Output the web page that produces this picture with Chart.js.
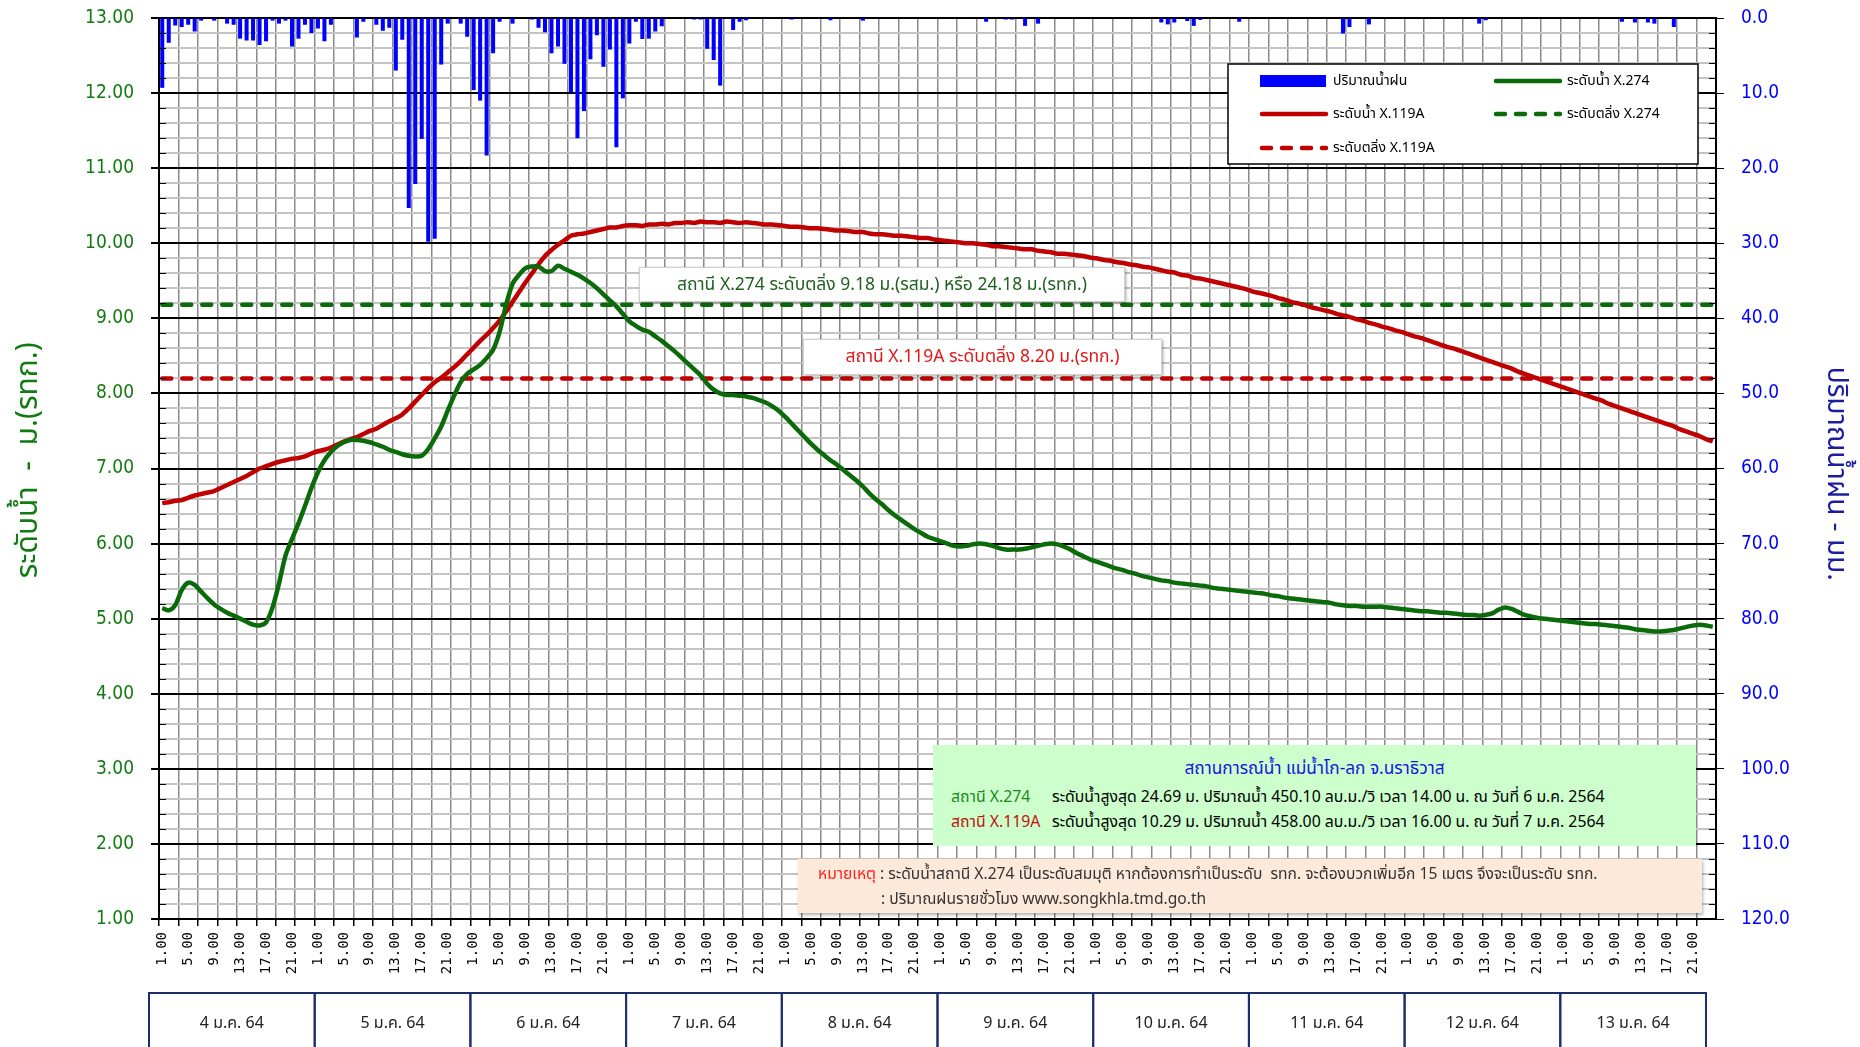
<!DOCTYPE html>
<html>
<head>
<meta charset="utf-8">
<script src="https://cdn.jsdelivr.net/npm/chart.js@4.4.1/dist/chart.umd.min.js"></script>
<style>
  html, body { margin: 0; padding: 0; background: #fff; }
  #wrap { position: relative; width: 1860px; height: 1047px; overflow: hidden; }
  #levelChart { position: absolute; left: 0; top: 0; }
  .box { position: absolute; box-sizing: border-box; font-family: "Noto Sans Thai", "Leelawadee UI", Tahoma, "Noto Sans", "DejaVu Sans", sans-serif; white-space: nowrap; }
  .bank { background: #fff; border: 1px solid #d0d0d0; box-shadow: 1px 1px 3px rgba(0,0,0,0.35); font-size: 17.5px; text-align: center; line-height: 34px; }
  #bank274 { left: 639px; top: 267px; width: 486px; height: 35px; color: #1f5f1f; }
  #bank119 { left: 803px; top: 339px; width: 359px; height: 36px; color: #e01818; }
  #summary { left: 933px; top: 745px; width: 763px; height: 101px; background: #ccffcc; font-size: 15.8px; }
  #summary .head { position: absolute; left: 0; right: 0; top: 11px; text-align: center; color: #1515e0; font-size: 17.3px; }
  #summary .row { position: absolute; left: 18px; }
  #summary .stn { display: inline-block; width: 101px; }
  #note { left: 798px; top: 859px; width: 904px; height: 54px; background: #fde9d9; box-shadow: 1px 2px 3px rgba(0,0,0,0.3); font-size: 15.6px; color: #333; }
  #note .row { position: absolute; }
</style>
</head>
<body>
<div id="wrap">
  <canvas id="levelChart" width="1860" height="1047"></canvas>
  <div class="box bank" id="bank274">สถานี X.274 ระดับตลิ่ง 9.18 ม.(รสม.) หรือ 24.18 ม.(รทก.)</div>
  <div class="box bank" id="bank119">สถานี X.119A ระดับตลิ่ง 8.20 ม.(รทก.)</div>
  <div class="box" id="summary">
    <div class="head">สถานการณ์น้ำ แม่น้ำโก-ลก จ.นราธิวาส</div>
    <div class="row" style="top:40px"><span class="stn" style="color:#1a8a1a">สถานี X.274</span>ระดับน้ำสูงสุด 24.69 ม. ปริมาณน้ำ 450.10 ลบ.ม./วิ เวลา 14.00 น. ณ วันที่ 6 ม.ค. 2564</div>
    <div class="row" style="top:65px"><span class="stn" style="color:#c01010">สถานี X.119A</span>ระดับน้ำสูงสุด 10.29 ม. ปริมาณน้ำ 458.00 ลบ.ม./วิ เวลา 16.00 น. ณ วันที่ 7 ม.ค. 2564</div>
  </div>
  <div class="box" id="note">
    <div class="row" style="left:20px; top:3px"><span style="color:#ff2020">หมายเหตุ</span> : ระดับน้ำสถานี X.274 เป็นระดับสมมุติ หากต้องการทำเป็นระดับ&nbsp; รทก. จะต้องบวกเพิ่มอีก 15 เมตร จึงจะเป็นระดับ รทก.</div>
    <div class="row" style="left:83px; top:28px">: ปริมาณฝนรายชั่วโมง www.songkhla.tmd.go.th</div>
  </div>
</div>
<script>
// hourly readings 4-13 Jan 2564 (one row per day, 1.00 .. 24.00)
const hourTicks = ["1.00","2.00","3.00","4.00","5.00","6.00","7.00","8.00","9.00","10.00","11.00","12.00",
  "13.00","14.00","15.00","16.00","17.00","18.00","19.00","20.00","21.00","22.00","23.00","24.00"];
const dayLabels = ["4 ม.ค. 64","5 ม.ค. 64","6 ม.ค. 64","7 ม.ค. 64","8 ม.ค. 64",
  "9 ม.ค. 64","10 ม.ค. 64","11 ม.ค. 64","12 ม.ค. 64","13 ม.ค. 64"];

const levelX274 = [
  5.14,5.11,5.18,5.38,5.48,5.45,5.36,5.27,5.19,5.13,5.08,5.04,5.00,4.96,4.92,4.91,4.95,5.15,5.47,5.84,6.06,6.27,6.50,6.74,
  6.95,7.11,7.22,7.30,7.35,7.38,7.38,7.37,7.35,7.32,7.29,7.25,7.22,7.19,7.17,7.16,7.17,7.26,7.40,7.56,7.77,7.97,8.15,8.26,
  8.32,8.38,8.47,8.58,8.82,9.18,9.46,9.58,9.67,9.69,9.69,9.63,9.63,9.70,9.66,9.62,9.58,9.53,9.47,9.40,9.32,9.24,9.16,9.06,
  8.96,8.90,8.85,8.82,8.76,8.70,8.63,8.56,8.48,8.40,8.32,8.24,8.13,8.05,8.00,7.98,7.98,7.97,7.96,7.94,7.91,7.88,7.83,7.77,
  7.69,7.60,7.51,7.42,7.33,7.25,7.18,7.11,7.05,6.98,6.91,6.84,6.76,6.67,6.59,6.52,6.44,6.37,6.31,6.25,6.19,6.14,6.09,6.06,
  6.03,6.00,5.97,5.96,5.97,5.99,6.00,5.99,5.97,5.94,5.92,5.92,5.92,5.93,5.95,5.97,5.99,6.00,5.99,5.96,5.92,5.87,5.83,5.79,
  5.76,5.73,5.70,5.67,5.65,5.62,5.60,5.57,5.55,5.53,5.51,5.50,5.48,5.47,5.46,5.45,5.44,5.43,5.41,5.40,5.39,5.38,5.37,5.36,
  5.35,5.34,5.33,5.31,5.30,5.28,5.27,5.26,5.25,5.24,5.23,5.22,5.21,5.19,5.18,5.17,5.17,5.16,5.16,5.16,5.16,5.15,5.14,5.13,
  5.12,5.11,5.10,5.10,5.09,5.08,5.08,5.07,5.06,5.05,5.05,5.04,5.05,5.07,5.12,5.15,5.13,5.09,5.05,5.03,5.01,5.00,4.99,4.98,
  4.97,4.96,4.95,4.94,4.93,4.93,4.92,4.91,4.90,4.89,4.88,4.86,4.85,4.84,4.83,4.83,4.84,4.85,4.87,4.89,4.91,4.92,4.91,4.89
];

const levelX119A = [
  6.54,6.55,6.57,6.58,6.61,6.64,6.66,6.68,6.70,6.74,6.78,6.82,6.86,6.90,6.95,7.00,7.03,7.06,7.09,7.11,7.13,7.14,7.16,7.20,
  7.23,7.25,7.28,7.32,7.36,7.39,7.42,7.46,7.50,7.53,7.58,7.63,7.67,7.72,7.80,7.89,7.98,8.07,8.15,8.21,8.28,8.35,8.43,8.52,
  8.61,8.70,8.78,8.87,8.97,9.09,9.22,9.35,9.48,9.60,9.72,9.83,9.91,9.98,10.04,10.10,10.12,10.13,10.15,10.17,10.19,10.21,10.21,10.23,
  10.24,10.24,10.23,10.25,10.25,10.26,10.25,10.27,10.27,10.28,10.27,10.29,10.28,10.28,10.27,10.29,10.28,10.27,10.28,10.27,10.26,10.25,10.25,10.24,
  10.23,10.22,10.22,10.21,10.20,10.20,10.19,10.18,10.17,10.17,10.16,10.15,10.15,10.13,10.12,10.12,10.11,10.10,10.10,10.09,10.08,10.07,10.07,10.05,
  10.04,10.03,10.02,10.01,10.00,10.00,9.99,9.98,9.96,9.96,9.95,9.94,9.93,9.92,9.92,9.90,9.89,9.88,9.86,9.86,9.85,9.84,9.83,9.81,
  9.80,9.78,9.77,9.75,9.74,9.72,9.71,9.69,9.68,9.66,9.64,9.62,9.61,9.58,9.57,9.54,9.53,9.51,9.49,9.47,9.45,9.43,9.41,9.39,
  9.36,9.34,9.32,9.30,9.27,9.25,9.22,9.20,9.18,9.15,9.13,9.11,9.09,9.06,9.04,9.02,8.99,8.97,8.94,8.92,8.89,8.87,8.84,8.82,
  8.79,8.76,8.74,8.71,8.68,8.65,8.62,8.60,8.57,8.54,8.51,8.48,8.45,8.42,8.39,8.36,8.33,8.29,8.26,8.23,8.20,8.17,8.14,8.11,
  8.08,8.05,8.02,7.99,7.96,7.93,7.90,7.86,7.83,7.80,7.77,7.74,7.71,7.68,7.65,7.62,7.59,7.56,7.52,7.49,7.46,7.43,7.39,7.36
];

const rainfall = [
  9.3,3.3,1.0,1.2,0.9,1.8,0.35,0,0.35,0,0.75,0.9,2.75,3.0,3.0,3.6,3.1,0.35,0.75,0.35,3.8,2.75,0.9,2.0,
  1.4,3.1,0.9,0,0,0,2.6,0.5,0,0.9,1.7,1.3,7.0,2.9,25.3,22.1,16.1,29.8,29.4,6.2,0.75,0,0.75,2.5,
  9.6,11.0,18.3,4.7,0.5,0,0.75,0,0,0.2,1.3,1.9,4.7,3.8,6.1,9.9,16.0,12.4,5.5,2.3,6.5,4.2,17.2,10.7,
  3.4,0.5,2.8,2.75,1.8,1.1,0,0,0,0.1,0.2,0.2,4.1,5.6,9.0,0.1,1.6,0.5,0.3,0,0,0.1,0.1,0,
  0,0.2,0.1,0,0,0,0,0.3,0,0,0.1,0,0.35,0,0,0,0,0,0,0,0,0,0,0,
  0,0,0,0,0.1,0,0,0.5,0,0,0.2,0.2,0,1.05,0,0.75,0,0,0,0,0,0,0,0,
  0,0,0,0,0,0,0,0.1,0.1,0,0.6,0.85,0.6,0,0.4,1.05,0.25,0,0,0,0,0,0.5,0,
  0,0,0,0,0,0,0,0,0,0,0,0,0,0,2.07,1.2,0,0,0.85,0,0,0,0,0,
  0,0,0,0.1,0,0,0,0,0,0,0,0.75,0.3,0,0,0,0,0,0,0,0,0,0,0,
  0.1,0,0,0,0,0,0,0,0,0.5,0,0.6,0,0.6,0.75,0,0,1.2,0,0,0,0,0,0
];

const bankX274 = 9.18;
const bankX119A = 8.20;

const categories = [];
dayLabels.forEach(function () { hourTicks.forEach(function (h) { categories.push(h); }); });

const thaiFont = '"Noto Sans Thai", "Leelawadee UI", Tahoma, "Noto Sans", "DejaVu Sans", sans-serif';
const numFont = '"DejaVu Sans Condensed", "DejaVu Sans", sans-serif';
const green = "#0b6b0b";
const red = "#c00000";

function isMajor(v) { return Math.abs(v - Math.round(v)) < 1e-6; }

// value axes: fixed width and no extra label padding so the plot keeps its place
function fixWidth(w) {
  return function (s) { s.width = w; s.paddingTop = 0; s.paddingBottom = 0; };
}

// legend box drawn inside the plot, two columns like the original
const legendBox = {
  id: "legendBox",
  afterDraw(chart) {
    const ctx = chart.ctx;
    const ds = chart.data.datasets;
    ctx.save();
    ctx.fillStyle = "#fff";
    ctx.fillRect(1228, 64, 470, 100);
    ctx.strokeStyle = "#000";
    ctx.lineWidth = 1.5;
    ctx.strokeRect(1228, 64, 470, 100);
    const items = [
      [0, 1260, 81], [1, 1260, 114], [3, 1260, 148],
      [2, 1494, 81], [4, 1494, 114]
    ];
    ctx.font = "14px " + thaiFont;
    ctx.textBaseline = "middle";
    items.forEach(function (it) {
      const d = ds[it[0]];
      const x = it[1], y = it[2];
      if (d.type === "bar") {
        ctx.fillStyle = d.backgroundColor;
        ctx.fillRect(x, y - 6, 66, 12);
      } else {
        ctx.strokeStyle = d.borderColor;
        ctx.lineWidth = 4.5;
        ctx.lineCap = "round";
        ctx.setLineDash(d.borderDash || []);
        ctx.beginPath();
        ctx.moveTo(x + 2, y);
        ctx.lineTo(x + 66, y);
        ctx.stroke();
        ctx.setLineDash([]);
      }
      ctx.fillStyle = "#000";
      ctx.fillText(d.label, x + 73, y + 1);
    });
    ctx.restore();
  }
};

// day boxes under the hour labels, axis titles, small inner ticks on both value axes
const axisExtras = {
  id: "axisExtras",
  afterDraw(chart) {
    const ctx = chart.ctx;
    const xs = chart.scales.x, ys = chart.scales.y, rs = chart.scales.yRain;
    const area = chart.chartArea;
    ctx.save();
    ctx.strokeStyle = "#000";
    ctx.lineWidth = 1.2;
    ctx.beginPath();
    ys.ticks.forEach(function (t) {
      if (!isMajor(t.value)) {
        const py = Math.round(ys.getPixelForValue(t.value)) + 0.5;
        ctx.moveTo(area.left, py); ctx.lineTo(area.left + 7, py);
      }
    });
    for (let v = 2; v < 120; v += 2) {
      if (v % 10 === 0) continue;
      const py = Math.round(rs.getPixelForValue(v)) + 0.5;
      ctx.moveTo(area.right - 7, py); ctx.lineTo(area.right, py);
    }
    ctx.stroke();

    // axis titles
    ctx.textAlign = "center";
    ctx.textBaseline = "middle";
    ctx.font = "30px " + thaiFont;
    ctx.save();
    ctx.translate(31, ys.getPixelForValue(7.11));
    ctx.rotate(-Math.PI / 2);
    ctx.fillStyle = "#137a13";
    ctx.fillText("ระดับน้ำ  -  ม.(รทก.)", 0, 0);
    ctx.restore();
    ctx.font = "28px " + thaiFont;
    ctx.save();
    ctx.translate(1834, rs.getPixelForValue(60.7));
    ctx.rotate(Math.PI / 2);
    ctx.fillStyle = "#1c1ca0";
    ctx.fillText("ปริมาณน้ำฝน - มม.", 0, 0);
    ctx.restore();

    const half = (xs.getPixelForValue(1) - xs.getPixelForValue(0)) / 2;
    ctx.strokeStyle = "#1b2f6b";
    ctx.lineWidth = 2;
    ctx.fillStyle = "#222";
    ctx.font = "16px " + thaiFont;
    dayLabels.forEach(function (d, k) {
      let x0 = xs.getPixelForValue(k * 24) - half;
      let x1 = xs.getPixelForValue(k * 24 + 23) + half;
      if (k === 0) x0 -= 10;
      if (k === dayLabels.length - 1) x1 -= 10;
      ctx.strokeRect(x0, 993, x1 - x0, 80);
      ctx.fillText(d, (x0 + x1) / 2, 1025);
    });
    ctx.restore();
  }
};

new Chart(document.getElementById("levelChart").getContext("2d"), {
  data: {
    labels: categories,
    datasets: [
      { type: "bar", label: "ปริมาณน้ำฝน", data: rainfall, yAxisID: "yRain",
        backgroundColor: "#0000ff", barPercentage: 0.62, categoryPercentage: 1, order: 6 },
      { type: "line", label: "ระดับน้ำ X.119A", data: levelX119A, yAxisID: "y",
        borderColor: red, borderWidth: 4.5, pointRadius: 0, tension: 0.2, order: 2 },
      { type: "line", label: "ระดับน้ำ X.274", data: levelX274, yAxisID: "y",
        borderColor: green, borderWidth: 4.5, pointRadius: 0, tension: 0.3, order: 1 },
      { type: "line", label: "ระดับตลิ่ง X.119A", data: categories.map(function () { return bankX119A; }), yAxisID: "y",
        borderColor: red, borderWidth: 4.5, borderDash: [9, 11], borderCapStyle: "round", pointRadius: 0, order: 4 },
      { type: "line", label: "ระดับตลิ่ง X.274", data: categories.map(function () { return bankX274; }), yAxisID: "y",
        borderColor: green, borderWidth: 4.5, borderDash: [9, 11], borderCapStyle: "round", pointRadius: 0, order: 3 }
    ]
  },
  options: {
    responsive: false,
    animation: false,
    layout: { padding: { top: 18, left: 0, right: 0, bottom: 0 } },
    plugins: { legend: { display: false }, tooltip: { enabled: false } },
    scales: {
      x: {
        type: "category",
        offset: true,
        grid: {
          offset: true,
          lineWidth: 1.5,
          color: function (c) { return c.index % 3 === 0 ? "#8a8a8a" : "transparent"; },
          tickColor: function (c) { return c.index % 3 === 0 ? "#000" : "transparent"; },
          tickLength: 7
        },
        border: { color: "#000", width: 2 },
        ticks: {
          autoSkip: false, minRotation: 90, maxRotation: 90, padding: 6,
          color: "#000", font: { family: '"DejaVu Sans Mono", monospace', size: 14 },
          callback: function (v, i) { return i % 4 === 0 ? categories[i] : ""; }
        },
        afterFit: function (s) { s.height = 128; s.paddingLeft = 0; s.paddingRight = 0; }
      },
      y: {
        position: "left",
        min: 1, max: 13,
        grid: {
          lineWidth: 2,
          color: function (c) { return isMajor(c.tick.value) ? "#000" : "#c4c4c4"; },
          tickColor: function (c) { return isMajor(c.tick.value) ? "#000" : "transparent"; },
          tickLength: 8
        },
        border: { color: "#000", width: 2 },
        ticks: {
          stepSize: 0.2, autoSkip: false, padding: 17, color: "#137a13",
          font: { family: numFont, size: 19 },
          callback: function (v) { return isMajor(v) ? Number(v).toFixed(2) : ""; }
        },
        afterFit: fixWidth(159)
      },
      yRain: {
        position: "right",
        reverse: true,
        min: 0, max: 120,
        grid: { drawOnChartArea: false, tickColor: "#000", tickLength: 8 },
        border: { color: "#000", width: 2 },
        ticks: {
          stepSize: 10, padding: 17, color: "#0000ff",
          font: { family: numFont, size: 19 },
          callback: function (v) { return Number(v).toFixed(1); }
        },
        afterFit: fixWidth(144)
      }
    }
  },
  plugins: [legendBox, axisExtras]
});
</script>
</body>
</html>
